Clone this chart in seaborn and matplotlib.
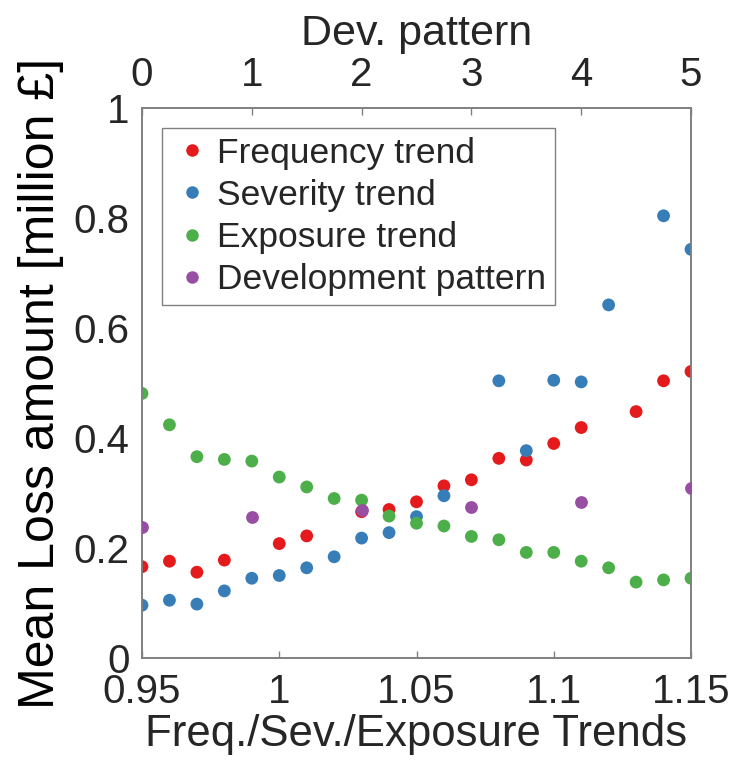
import numpy as np
import pandas as pd
import matplotlib
matplotlib.use("Agg")
import matplotlib.pyplot as plt
import seaborn as sns
from matplotlib.lines import Line2D

# ---- data ----
trend = [0.95, 0.96, 0.97, 0.98, 0.99, 1.00, 1.01, 1.02, 1.03, 1.04, 1.05,
         1.06, 1.07, 1.08, 1.09, 1.10, 1.11, 1.12, 1.13, 1.14, 1.15]
frequency = [0.166, 0.176, 0.156, 0.178, np.nan, 0.208, 0.222, np.nan, 0.266, 0.270, 0.284,
             0.313, 0.324, 0.363, 0.360, 0.390, 0.419, np.nan, 0.448, 0.504, 0.521]
severity = [0.096, 0.105, 0.098, 0.122, 0.145, 0.150, 0.164, 0.184, 0.218, 0.228, 0.257,
            0.295, np.nan, 0.504, 0.377, 0.505, 0.502, 0.642, np.nan, 0.804, 0.743]
exposure = [0.481, 0.424, 0.366, 0.361, 0.358, 0.329, 0.311, 0.290, 0.287, 0.258, 0.245,
            0.240, 0.221, 0.215, 0.192, 0.192, 0.176, 0.164, 0.138, 0.142, 0.145]
dev_pattern = [0, 1, 2, 3, 4, 5]
development = [0.239, 0.257, 0.269, 0.275, 0.284, 0.309]

series_names = ["Frequency trend", "Severity trend", "Exposure trend", "Development pattern"]
colors = ["#E41A1C", "#377EB8", "#4DAF4A", "#984EA3"]
xticks = [0.95, 1.00, 1.05, 1.10, 1.15]
xticklabels = ["0.95", "1", "1.05", "1.1", "1.15"]
yticks = [0, 0.2, 0.4, 0.6, 0.8, 1.0]
yticklabels = ["0", "0.2", "0.4", "0.6", "0.8", "1"]

# ---- style ----
sns.set_style("white")
plt.rcParams["font.family"] = ["Liberation Sans", "DejaVu Sans"]

spine_c = "#808080"
text_c = "#262626"

fig = plt.figure(figsize=(7.36, 7.63), dpi=100)
ax = fig.add_axes([142 / 736, 1 - 658 / 763, 549 / 736, 550 / 763])

df = pd.DataFrame({
    "trend": trend * 3,
    "loss": frequency + severity + exposure,
    "series": [series_names[0]] * 21 + [series_names[1]] * 21 + [series_names[2]] * 21,
})
sns.scatterplot(data=df, x="trend", y="loss", hue="series",
                palette=dict(zip(series_names[:3], colors[:3])),
                s=85, linewidth=0, ax=ax, legend=False, zorder=3)

ax.set_xlim(0.95, 1.15)
ax.set_ylim(0, 1)
ax.set_xticks(xticks)
ax.set_xticklabels(xticklabels)
ax.set_yticks(yticks)
ax.set_yticklabels(yticklabels)
ax.tick_params(axis="both", direction="in", length=5, width=1, color=spine_c,
               labelsize=29, labelcolor=text_c, pad=9, top=False, right=False)
ax.tick_params(axis="x", pad=11)
for sp in ax.spines.values():
    sp.set_color(spine_c)
    sp.set_linewidth(1.2)
ax.set_xlabel("Freq./Sev./Exposure Trends", fontsize=31.5, color=text_c, labelpad=2)
ax.set_ylabel("Mean Loss amount [million \u00a3]", fontsize=36, color="black", labelpad=7)

ax2 = ax.twiny()
sns.scatterplot(x=dev_pattern, y=development, color=colors[3], s=85, linewidth=0,
                ax=ax2, zorder=3)
ax2.set_xlim(0, 5)
ax2.set_xticks(dev_pattern)
ax2.tick_params(axis="x", direction="in", length=5, width=1, color=spine_c,
                labelsize=29, labelcolor=text_c, pad=10)
for sp in ax2.spines.values():
    sp.set_color(spine_c)
    sp.set_linewidth(1.2)
ax2.set_xlabel("Dev. pattern", fontsize=31, color=text_c, labelpad=8)

handles = [Line2D([], [], marker="o", linestyle="", color=c, markersize=9,
                  markeredgewidth=0) for c in colors]
leg = ax2.legend(handles, series_names, loc="upper left", bbox_to_anchor=(0.036, 0.964),
                 borderaxespad=0, fontsize=25.5, frameon=True, fancybox=False,
                 edgecolor=spine_c, framealpha=1, borderpad=0.25, labelspacing=0.26,
                 handlelength=1.2, handletextpad=0.1)
leg.get_frame().set_linewidth(1.0)

fig.savefig("out.png", dpi=100)
